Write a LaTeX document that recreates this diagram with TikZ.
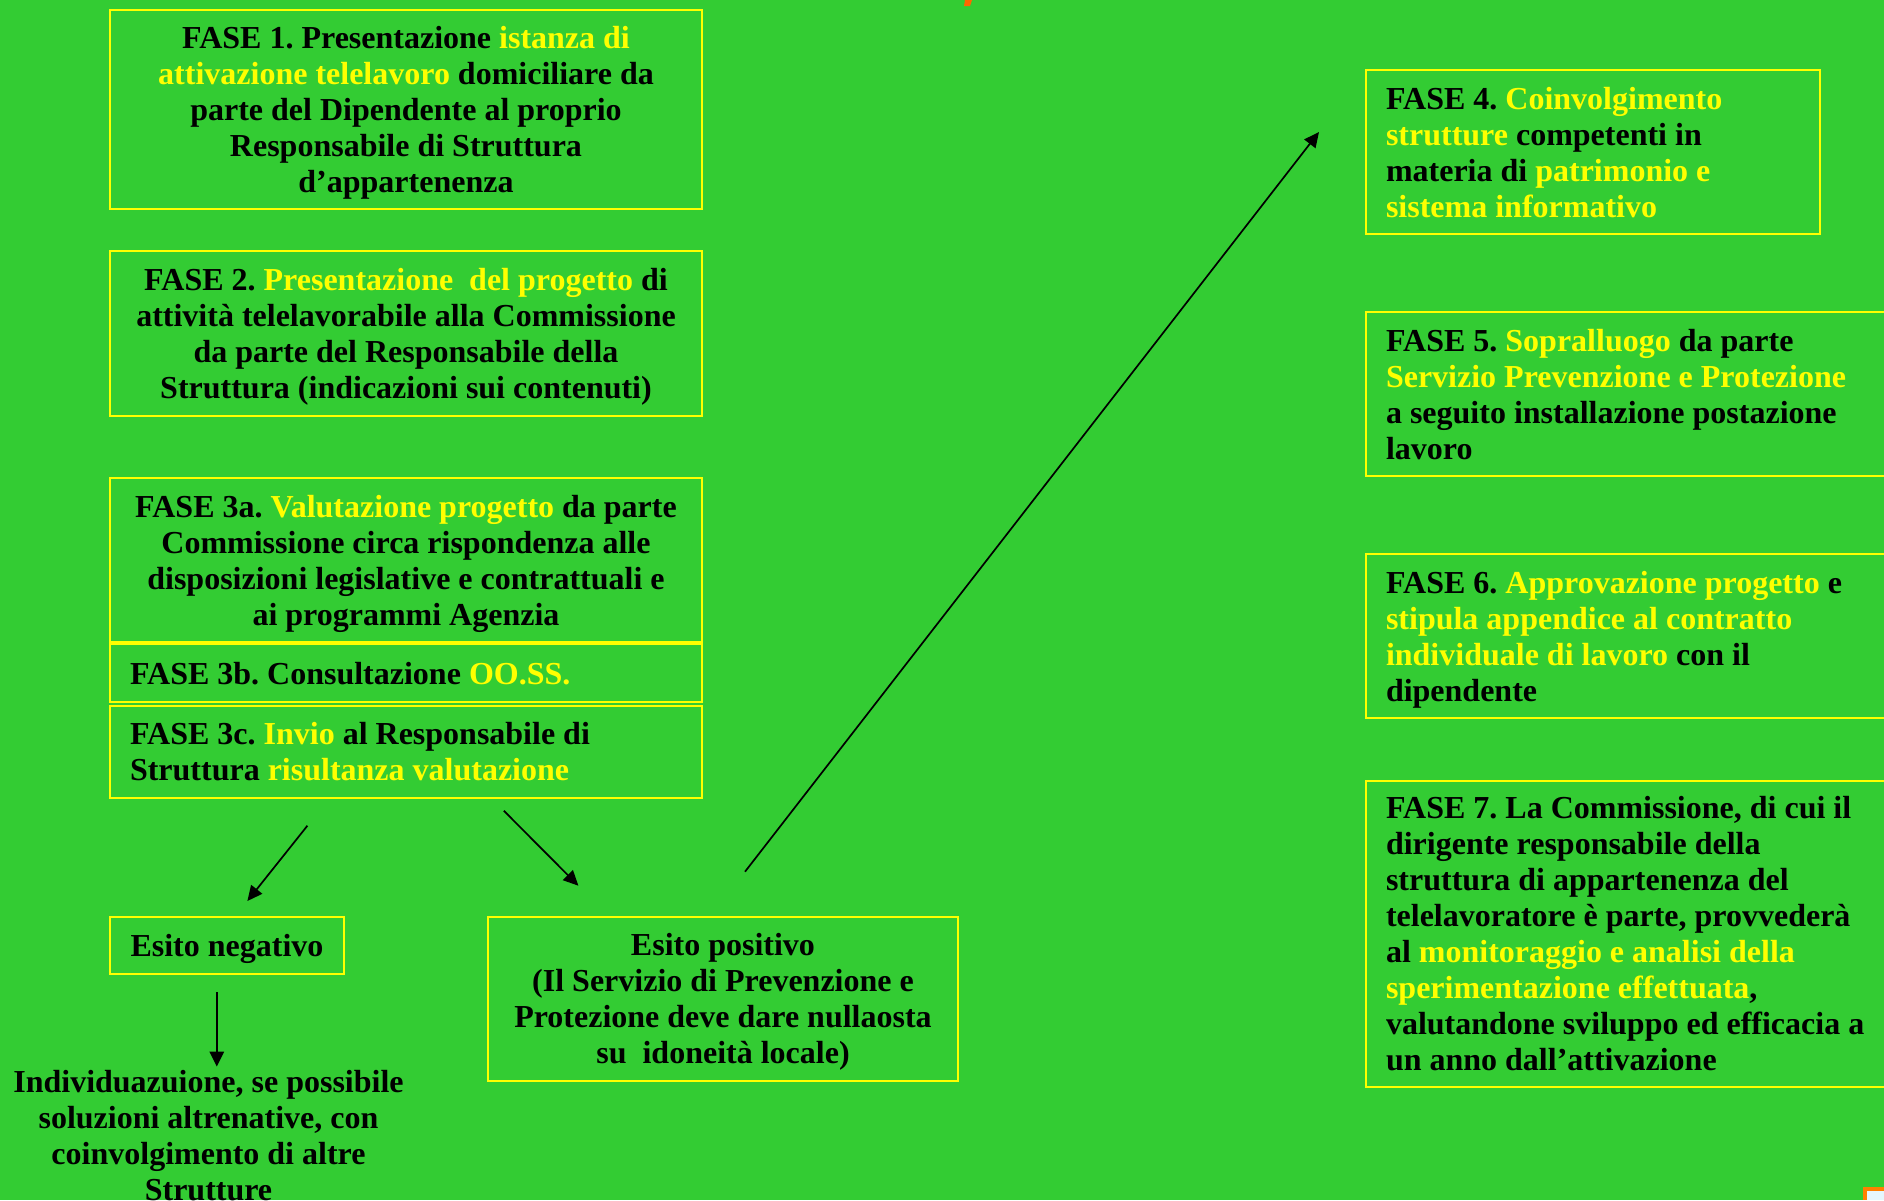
\documentclass[tikz,border=0pt]{standalone}
\usepackage{fontspec}
\setmainfont{Liberation Serif}
\usepackage{tikz}
\usetikzlibrary{arrows.meta}
\definecolor{verde}{RGB}{51,204,51}
\definecolor{giallo}{RGB}{255,255,0}
\definecolor{arancio}{RGB}{255,102,0}
\newcommand{\gi}[1]{\textcolor{giallo}{#1}}
\frenchspacing

\begin{document}
\begin{tikzpicture}[x=0.5pt, y=-0.5pt,
  fase/.style={draw=giallo, line width=1pt, inner xsep=10pt, font=\fontsize{16}{18}\selectfont\bfseries,
    execute at begin node=\rule{0pt}{15pt}, execute at end node=\rule[-4pt]{0pt}{0pt}},
  centro/.style={inner xsep=5pt, align=flush center},
  sinistra/.style={align=flush left},
  testo/.style={font=\fontsize{16}{18}\selectfont\bfseries, align=center},
  freccia/.style={-{Triangle[length=7.5pt,width=7pt]}, line width=0.85pt}]
\useasboundingbox (0,0) rectangle (1884,1200);
\clip (0,0) rectangle (1884,1200);
\fill[verde] (0,0) rectangle (1884,1200);
\fill[arancio] (965,0) -- (972,0) -- (970,6) -- (964,6) -- cycle;
\fill[orange] (1863,1187) rectangle (1884,1200);
\fill[cyan!10] (1867,1191) rectangle (1884,1200);

% colonna sinistra
\node[fase, centro, text width=286pt, minimum height=99.5pt] (f1) at (406,109.5)
  {FASE 1. Presentazione \gi{istanza di}\\ \gi{attivazione telelavoro} domiciliare da\\ parte del Dipendente al proprio\\ Responsabile di Struttura\\ d’appartenenza};
\node[fase, centro, text width=286pt, minimum height=82.5pt] (f2) at (406,333.5)
  {FASE 2. \gi{Presentazione\ \ del progetto} di\\ attività telelavorabile alla Commissione\\ da parte del Responsabile della\\ Struttura (indicazioni sui contenuti)};
\node[fase, centro, text width=286pt, minimum height=82pt] (f3a) at (406,560.3)
  {FASE 3a. \gi{Valutazione progetto} da parte\\ Commissione circa rispondenza alle\\ disposizioni legislative e contrattuali e\\ ai programmi Agenzia};
\node[fase, sinistra, text width=276pt, minimum height=28.7pt] (f3b) at (406,673)
  {FASE 3b. Consultazione \gi{OO.SS.}};
\node[fase, sinistra, text width=276pt, minimum height=46.2pt] (f3c) at (406,751.9)
  {FASE 3c. \gi{Invio} al Responsabile di\\ Struttura \gi{risultanza valutazione}};

\node[fase, align=center, minimum width=117.3pt, minimum height=28.7pt] (neg) at (227,945.3) {Esito negativo};
\node[fase, centro, text width=225pt, minimum height=82pt] (pos) at (723,998.7)
  {Esito positivo\\ (Il Servizio di Prevenzione e\\ Protezione deve dare nullaosta\\ su\ \ idoneità locale)};
\node[testo] (alt) at (208.5,1136)
  {Individuazuione, se possibile\\ soluzioni altrenative, con\\ coinvolgimento di altre\\ Strutture};

% colonna destra
\node[fase, sinistra, text width=207pt, minimum height=82pt] (f4) at (1593,152)
  {FASE 4. \gi{Coinvolgimento}\\ \gi{strutture} competenti in\\ materia di \gi{patrimonio e}\\ \gi{sistema informativo}};
\node[fase, sinistra, text width=257pt, minimum height=82pt] (f5) at (1643,394)
  {FASE 5. \gi{Sopralluogo} da parte\\ \gi{Servizio Prevenzione e Protezione}\\ a seguito installazione postazione\\ lavoro};
\node[fase, sinistra, text width=257pt, minimum height=82pt] (f6) at (1643,636)
  {FASE 6. \gi{Approvazione progetto} e\\ \gi{stipula appendice al contratto}\\ \gi{individuale di lavoro} con il\\ dipendente};
\node[fase, sinistra, text width=257pt, minimum height=153.2pt] (f7) at (1643,933.9)
  {FASE 7. La Commissione, di cui il\\ dirigente responsabile della\\ struttura di appartenenza del\\ telelavoratore è parte, provvederà\\ al \gi{monitoraggio e analisi della}\\ \gi{sperimentazione effettuata},\\ valutandone sviluppo ed efficacia a\\ un anno dall’attivazione};

% frecce
\coordinate (n1) at (307.4,825.7);
\coordinate (n2) at (247.4,901);
\coordinate (p1) at (503.8,810.7);
\coordinate (p2) at (578.4,885.7);
\coordinate (d1) at (216.8,992.3);
\coordinate (d2) at (216.8,1066.7);
\coordinate (s1) at (745,871.7);
\coordinate (s2) at (1319,132);
\draw[freccia] (n1) -- (n2);
\draw[freccia] (p1) -- (p2);
\draw[freccia, line width=1.3pt] (d1) -- (d2);
\draw[freccia] (s1) -- (s2);
\end{tikzpicture}
\end{document}
